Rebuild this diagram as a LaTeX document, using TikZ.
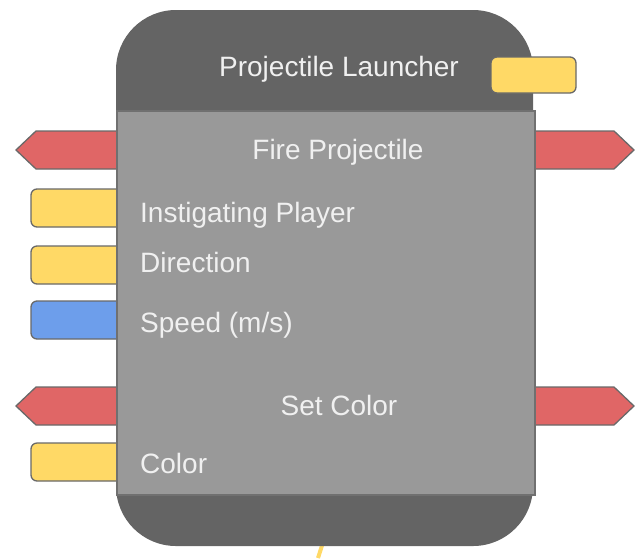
\documentclass[tikz,border=0pt]{standalone}
\usepackage{fontspec}
\setmainfont{Liberation Sans}
\usetikzlibrary{positioning,calc}
\definecolor{nodeDark}{RGB}{100,100,100}
\definecolor{nodeBody}{RGB}{153,153,153}
\definecolor{nodeEdge}{RGB}{112,112,112}
\definecolor{execRed}{RGB}{224,102,102}
\definecolor{pinYellow}{RGB}{255,217,102}
\definecolor{pinBlue}{RGB}{109,158,235}
\definecolor{pinEdge}{RGB}{105,105,105}
\definecolor{labelText}{RGB}{240,240,240}

\begin{document}
\begin{tikzpicture}[x=1pt,y=-1pt,
    lbl/.style={text=labelText,font=\fontsize{28}{32}\selectfont,inner sep=0pt},
    pin/.style={draw=pinEdge,line width=1.3pt,rounded corners=6pt},
    execpin/.style={draw=pinEdge,line width=1.3pt,fill=execRed}]
  \useasboundingbox (0,0) rectangle (639,558);
  % wire leaving the bottom
  \coordinate (wireIn) at (327,530);
  \coordinate (wireOut) at (318,558);
  \draw[pinYellow,line width=4pt] (wireIn) -- (wireOut);
  % data pins on the left
  \foreach \y/\c in {189/pinYellow, 246/pinYellow, 301/pinBlue, 443/pinYellow} {
    \filldraw[pin,fill=\c] (130,\y) -- (31,\y) -- (31,\y+38) -- (130,\y+38);
  }
  % exec pins
  \foreach \y in {150,406} {
    \filldraw[execpin] (130,\y-19) -- (36,\y-19) -- (16,\y) -- (36,\y+19) -- (130,\y+19);
    \filldraw[execpin] (520,\y-19) -- (614,\y-19) -- (634,\y) -- (614,\y+19) -- (520,\y+19);
  }
  % node body
  \fill[nodeDark,rounded corners=60pt] (116,10) rectangle (533,546);
  \filldraw[fill=nodeBody,draw=nodeEdge,line width=1.3pt] (117,111) rectangle (535,495);
  % output pin in the header
  \filldraw[pin,fill=pinYellow] (491,57) rectangle (576,93);
  % labels
  \node[lbl,anchor=base] (title) at (339,76) {Projectile Launcher};
  \node[lbl,anchor=base] (fire) at (338,159) {Fire Projectile};
  \node[lbl,anchor=base] (setColor) at (339,415) {Set Color};
  \foreach \y/\name/\txt in {222/instigator/Instigating Player, 272/direction/Direction,
      332/speed/{Speed (m/s)}, 473/color/Color} {
    \node[lbl,anchor=base west] (\name) at (140,\y) {\txt};
  }
\end{tikzpicture}
\end{document}
